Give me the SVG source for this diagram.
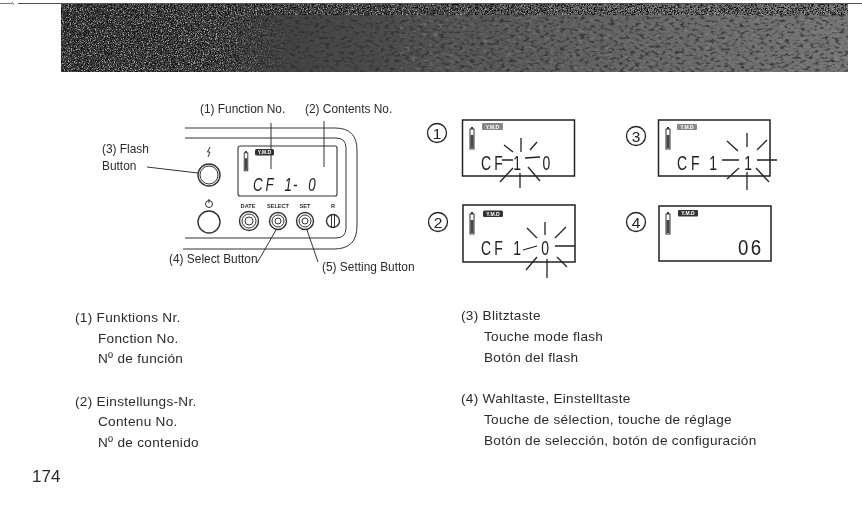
<svg xmlns="http://www.w3.org/2000/svg" width="862" height="508" viewBox="0 0 862 508">
<style>
text{font-family:"Liberation Sans",Arial,sans-serif;fill:#2b2b2b}
.n{font-size:13.6px;letter-spacing:.3px}
.l{font-size:11.9px}
.t{font-size:5.6px;font-weight:bold;text-anchor:middle}
.seg{font-family:"Liberation Sans",sans-serif;fill:#222;font-size:20px;letter-spacing:6px}
.tag{font-size:5px;font-weight:bold;fill:#fff;text-anchor:middle}
.c{font-size:15.5px;text-anchor:middle;fill:#222}
.ring{fill:#fff;stroke:#222;stroke-width:1.3}
.ln{fill:none;stroke:#333;stroke-width:1}
.lcd{fill:#fff;stroke:#222;stroke-width:1.5}
.ray{fill:none;stroke:#222;stroke-width:1.3}
.btn{fill:#fff;stroke:#333;stroke-width:1.4}
.bat{fill:#444}
</style>
<defs>
<linearGradient id="bg" x1="0" x2="1" y1="0" y2="0">
<stop offset="0" stop-color="#3a3a3a"/><stop offset="0.3" stop-color="#444"/><stop offset="0.5" stop-color="#545454"/><stop offset="0.75" stop-color="#686868"/><stop offset="1" stop-color="#767676"/>
</linearGradient>
<linearGradient id="fade" gradientUnits="userSpaceOnUse" x1="61" x2="300" y1="0" y2="0">
<stop offset="0" stop-color="#fff"/><stop offset="0.65" stop-color="#fff"/><stop offset="1" stop-color="#000"/>
</linearGradient>
<mask id="left" maskUnits="userSpaceOnUse" x="61" y="4" width="787" height="68"><rect x="61" y="4" width="787" height="68" fill="url(#fade)"/><rect x="61" y="4" width="787" height="11" fill="#fff"/></mask>
<filter id="sp" x="0" y="0" width="1" height="1" color-interpolation-filters="sRGB">
<feTurbulence type="fractalNoise" baseFrequency="0.85" numOctaves="2" seed="4"/>
<feColorMatrix values="0 0 0 0 .62 0 0 0 0 .62 0 0 0 0 .62 6 0 0 0 -3.1"/>
</filter>
<filter id="spk" x="0" y="0" width="1" height="1" color-interpolation-filters="sRGB">
<feTurbulence type="fractalNoise" baseFrequency="0.7" numOctaves="2" seed="9"/>
<feColorMatrix values="0 0 0 0 .05 0 0 0 0 .05 0 0 0 0 .05 6 0 0 0 -3"/>
</filter>
<filter id="soft" x="0" y="0" width="1" height="1" color-interpolation-filters="sRGB">
<feTurbulence type="fractalNoise" baseFrequency="0.2 0.35" numOctaves="3" seed="7"/>
<feColorMatrix values="0 0 0 0 .18 0 0 0 0 .18 0 0 0 0 .18 4 0 0 0 -2"/>
</filter>
<filter id="softl" x="0" y="0" width="1" height="1" color-interpolation-filters="sRGB">
<feTurbulence type="fractalNoise" baseFrequency="0.18 0.3" numOctaves="3" seed="21"/>
<feColorMatrix values="0 0 0 0 .6 0 0 0 0 .6 0 0 0 0 .6 4 0 0 0 -2.2"/>
</filter>
<filter id="b" x="-5%" y="-5%" width="110%" height="110%"><feGaussianBlur stdDeviation="0.35"/></filter>
<filter id="b2" x="-2%" y="-10%" width="104%" height="120%"><feGaussianBlur stdDeviation="0.5"/></filter>
<g id="bat"><rect x="-2" y="-8" width="4" height="20" fill="#fff" stroke="#333" stroke-width="1"/><rect x="-1" y="-10" width="2" height="2" fill="#333"/><rect x="-1.500" y="-2" width="3" height="13" class="bat"/></g>
</defs>

<g id="banner" filter="url(#b2)">
<path d="M18 3.500H862" stroke="#555" stroke-width="1" fill="none"/>
<path d="M0 3.500H12M12 2l2 3" stroke="#777" stroke-width="1" fill="none"/>
<rect x="61" y="4" width="787" height="68" fill="url(#bg)"/>
<rect x="61" y="4" width="787" height="68" filter="url(#soft)" opacity=".8"/>
<rect x="400" y="15" width="448" height="57" filter="url(#softl)" opacity=".35"/>
<g mask="url(#left)">
<rect x="61" y="4" width="787" height="68" filter="url(#sp)"/>
<rect x="61" y="4" width="787" height="68" filter="url(#spk)"/>
</g>
</g>

<g filter="url(#b)">
<g id="connectors" class="ln">
<path d="M271 123V169"/>
<path d="M324 121V167"/>
<path d="M147 167L198 173"/>
<path d="M257 263L276 230"/>
<path d="M318 262L307 230"/>
</g>

<g id="camera">
<path class="ln" d="M185 128H335Q357 128 357 150V226Q357 249 334 249H183" stroke-width="1.200"/>
<path class="ln" d="M185 138H336Q346 138 346 148V228Q346 238 336 238H185"/>
<rect x="238" y="146" width="99" height="50" rx="2" fill="none" stroke="#333" stroke-width="1.100"/>
<use href="#bat" transform="translate(246 160) scale(.9)"/>
<rect x="255" y="149" width="19" height="6.500" rx="1.500" fill="#333"/>
<text class="tag" x="264.500" y="154.300">Y.M.D</text>
<text class="seg" transform="translate(253 191) scale(.7 1)" x="0 18 45 57 79" y="0" style="font-size:19px;font-style:italic;letter-spacing:0">CF1-0</text>
<path d="M210 147l-2.500 5h2.500l-2 5" class="ln" stroke-width="1.400"/>
<circle class="btn" cx="209" cy="175" r="11"/>
<circle class="ln" cx="209" cy="175" r="9"/>
<circle class="ln" cx="209" cy="204" r="3.500" stroke-width="1.400"/>
<path class="ln" d="M209 199v4" stroke-width="1.400"/>
<circle class="btn" cx="209" cy="222" r="11"/>
<text class="t" x="248" y="208">DATE</text>
<text class="t" x="278" y="208">SELECT</text>
<text class="t" x="305" y="208">SET</text>
<text class="t" x="333" y="208">R</text>
<g id="btn-date"><circle class="btn" cx="249" cy="221" r="9.500"/><circle class="ln" cx="249" cy="221" r="7"/><circle class="ln" cx="249" cy="221" r="4"/></g>
<g id="btn-select"><circle class="btn" cx="278" cy="221" r="8.500"/><circle class="ln" cx="278" cy="221" r="6"/><circle class="ln" cx="278" cy="221" r="3"/></g>
<g id="btn-set"><circle class="btn" cx="305" cy="221" r="8.500"/><circle class="ln" cx="305" cy="221" r="6"/><circle class="ln" cx="305" cy="221" r="3"/></g>
<g id="btn-r"><circle class="btn" cx="333" cy="221" r="6.500"/><rect class="ln" x="331.500" y="214.500" width="3" height="13"/></g>
</g>

<g id="callouts">
<text class="l" x="200" y="113">(1) Function No.</text>
<text class="l" x="305" y="113">(2) Contents No.</text>
<text class="l" x="102" y="153">(3) Flash</text>
<text class="l" x="102" y="170">Button</text>
<text class="l" x="169" y="263">(4) Select Button</text>
<text class="l" x="322" y="271">(5) Setting Button</text>
</g>

<g id="lcd1">
<circle class="ring" cx="437" cy="133" r="9.500"/><text class="c" x="437" y="138.500">1</text>
<rect class="lcd" x="462.500" y="120" width="112" height="56"/>
<use href="#bat" transform="translate(472 137)"/>
<rect x="482" y="123" width="21" height="7" rx="1" fill="#888"/>
<text class="tag" x="492.500" y="128.500">Y.M.D</text>
<text class="seg" transform="translate(481 170) scale(.7 1)" x="0 19 46 88" y="0">CF10</text>
<path class="ray" d="M521 138V152M504 145L513 152M530 150L537 142M502 160H513M525 158L540 157M500 182L513 168M528 167L540 181M520 173V188"/>
</g>
<g id="lcd2">
<circle class="ring" cx="438" cy="222" r="9.500"/><text class="c" x="438" y="227.500">2</text>
<rect class="lcd" x="463" y="205" width="112" height="57"/>
<use href="#bat" transform="translate(472 222)"/>
<rect x="483" y="210.500" width="20" height="6.500" rx="1.500" fill="#333"/>
<text class="tag" x="493" y="215.800">Y.M.D</text>
<text class="seg" transform="translate(481 255) scale(.7 1)" x="0 19 46 86" y="0">CF10</text>
<path class="ray" d="M545 222V235M527 228L537 238M555 238L566 227M523 250L537 246M555 246H575M526 270L537 257M557 257L567 267M547 259V278"/>
</g>
<g id="lcd3">
<circle class="ring" cx="636" cy="136" r="9.500"/><text class="c" x="636" y="141.500">3</text>
<rect class="lcd" x="658.500" y="120" width="111.500" height="56"/>
<use href="#bat" transform="translate(668 137)"/>
<rect x="677" y="124" width="20" height="6" rx="1" fill="#888"/>
<text class="tag" x="687" y="128.800">Y.M.D</text>
<text class="seg" transform="translate(677 170) scale(.7 1)" x="0 20 46 96" y="0">CF11</text>
<path class="ray" d="M722 160H739M747 133V147M727 141L738 151M757 150L767 140M757 160H777M727 179L739 168M756 168L769 182M747 172V190"/>
</g>
<g id="lcd4">
<circle class="ring" cx="636" cy="222" r="9.500"/><text class="c" x="636" y="227.500">4</text>
<rect class="lcd" x="659" y="206" width="112" height="55"/>
<use href="#bat" transform="translate(668 222)"/>
<rect x="678" y="210" width="20" height="6.500" rx="1" fill="#333"/>
<text class="tag" x="688" y="215.300">Y.M.D</text>
<text class="seg" transform="translate(738 255) scale(.85 1)" x="0 15" y="0" style="font-size:22px;letter-spacing:0">06</text>
</g>

<g id="notes-left">
<text class="n" x="75" y="322">(1) Funktions Nr.</text>
<text class="n" x="98" y="343">Fonction No.</text>
<text class="n" x="98" y="363">Nº de función</text>
<text class="n" x="75" y="406">(2) Einstellungs-Nr.</text>
<text class="n" x="98" y="426">Contenu No.</text>
<text class="n" x="98" y="447">Nº de contenido</text>
</g>
<g id="notes-right">
<text class="n" x="461" y="320">(3) Blitztaste</text>
<text class="n" x="484" y="341">Touche mode flash</text>
<text class="n" x="484" y="362">Botón del flash</text>
<text class="n" x="461" y="403">(4) Wahltaste, Einstelltaste</text>
<text class="n" x="484" y="424">Touche de sélection, touche de réglage</text>
<text class="n" x="484" y="445">Botón de selección, botón de configuración</text>
</g>
<text id="page" x="32" y="482" font-size="17">174</text>
</g>
</svg>
